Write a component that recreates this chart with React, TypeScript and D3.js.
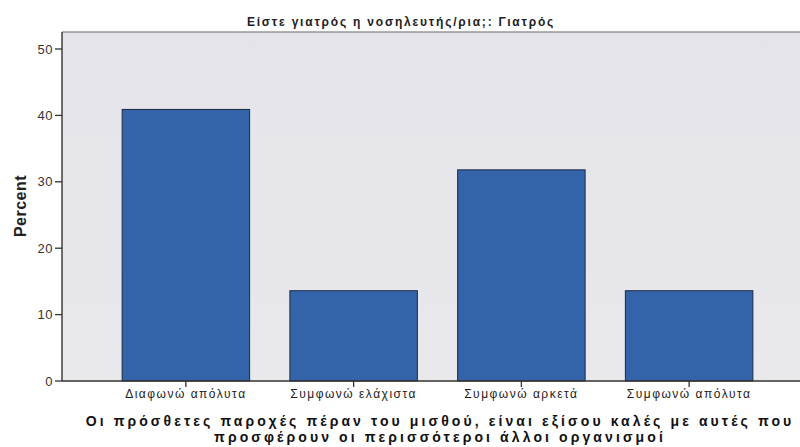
import React from "react";
import * as d3 from "d3";

const title = "Είστε γιατρός η νοσηλευτής/ρια;: Γιατρός";
const categories = ["Διαφωνώ απόλυτα", "Συμφωνώ ελάχιστα", "Συμφωνώ αρκετά", "Συμφωνώ απόλυτα"];
const percents = [40.9, 13.6, 31.8, 13.6];
const yTicks = [0, 10, 20, 30, 40, 50];
const yLabel = "Percent";
const xLabelLines = [
  "Οι πρόσθετες παροχές πέραν του μισθού, είναι εξίσου καλές με αυτές που",
  "προσφέρουν οι περισσότεροι άλλοι οργανισμοί",
];

const W = 800;
const H = 447;
const plotLeft = 62;
const plotTop = 32;
const plotRight = 814;

export default function App() {
  const y = d3.scaleLinear().domain([0, 50]).range([381, 49]);
  const x = d3
    .scaleBand<string>()
    .domain(categories)
    .range([102, 773])
    .paddingInner(0.24)
    .paddingOuter(0.12);
  const font = "'Liberation Sans', Arial, sans-serif";
  return (
    <svg
      width={W}
      height={H}
      style={{ position: "absolute", left: 0, top: 0, background: "#fff" }}
    >
      <defs>
        <linearGradient id="bg" x1="0" y1="0" x2="0" y2="1">
          <stop offset="0" stopColor="#e4e4ea" />
          <stop offset="1" stopColor="#e9e9ec" />
        </linearGradient>
      </defs>
      <text
        x={401}
        y={26}
        textAnchor="middle"
        fontFamily={font}
        fontWeight="bold"
        fontSize={12}
        letterSpacing={1.8}
        fill="#222"
      >
        {title}
      </text>
      <rect
        x={plotLeft}
        y={plotTop}
        width={plotRight - plotLeft}
        height={y(0) - plotTop}
        fill="url(#bg)"
      />
      <line x1={plotLeft} x2={plotRight} y1={plotTop} y2={plotTop} stroke="#666" strokeWidth={1.2} />
      {categories.map((c, i) => (
        <rect
          key={c}
          x={x(c)}
          y={y(percents[i])}
          width={x.bandwidth()}
          height={y(0) - y(percents[i])}
          fill="#3363a8"
          stroke="#1d2b44"
          strokeWidth={1}
        />
      ))}
      <line x1={plotLeft} x2={plotLeft} y1={plotTop} y2={y(0)} stroke="#333" strokeWidth={1.4} />
      <line x1={plotLeft} x2={plotRight} y1={y(0)} y2={y(0)} stroke="#333" strokeWidth={1.4} />
      {yTicks.map((t) => (
        <g key={t}>
          <line x1={plotLeft - 7} x2={plotLeft} y1={y(t)} y2={y(t)} stroke="#333" strokeWidth={1.3} />
          <text
            x={plotLeft - 9}
            y={y(t)}
            dy="0.36em"
            textAnchor="end"
            fontFamily={font}
            fontSize={13}
            letterSpacing={0.5}
            fill="#333"
          >
            {t}
          </text>
        </g>
      ))}
      {categories.map((c) => {
        const cx = (x(c) as number) + x.bandwidth() / 2;
        return (
          <g key={c}>
            <line x1={cx} x2={cx} y1={y(0)} y2={y(0) + 6} stroke="#333" strokeWidth={1.3} />
            <text
              x={cx}
              y={398}
              textAnchor="middle"
              fontFamily={font}
              fontSize={12}
              letterSpacing={1.5}
              fill="#222"
            >
              {c}
            </text>
          </g>
        );
      })}
      <text
        transform={`translate(26, 206) rotate(-90)`}
        textAnchor="middle"
        fontFamily={font}
        fontWeight="bold"
        fontSize={16}
        letterSpacing={0.5}
        fill="#222"
      >
        {yLabel}
      </text>
      {xLabelLines.map((l, i) => (
        <text
          key={i}
          x={440}
          y={426 + i * 16}
          textAnchor="middle"
          fontFamily={font}
          fontWeight="bold"
          fontSize={14}
          letterSpacing={3.1}
          fill="#111"
        >
          {l}
        </text>
      ))}
    </svg>
  );
}
